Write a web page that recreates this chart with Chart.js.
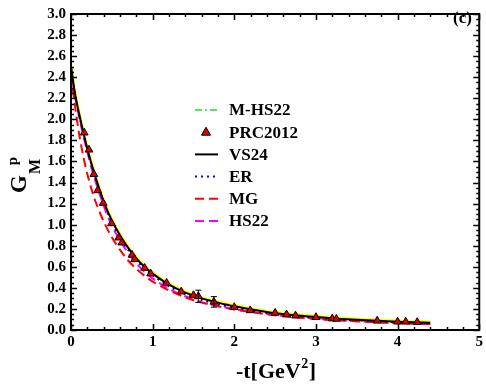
<!DOCTYPE html>
<html>
<head>
<meta charset="utf-8">
<script src="https://cdn.jsdelivr.net/npm/chart.js@4.4.1/dist/chart.umd.min.js"></script>
<style>
html,body{margin:0;padding:0;background:#fff;}
canvas{display:block;}
</style>
</head>
<body>
<canvas id="c" width="486" height="384"></canvas>
<script>
// ---- data ----
const tGrid = [0,0.05,0.1,0.15,0.2,0.25,0.3,0.4,0.5,0.6,0.7,0.8,0.9,1.0,1.2,1.4,1.6,1.8,2.0,2.25,2.5,2.75,3.0,3.25,3.5,3.75,4.0,4.2,4.4];
const mhs22 = [2.51,2.25,2.06,1.89,1.73,1.59,1.46,1.232,1.052,0.91,0.79,0.69,0.61,0.545,0.44,0.365,0.308,0.268,0.233,0.198,0.168,0.148,0.131,0.116,0.105,0.095,0.087,0.081,0.076];
const vs24  = [2.50,2.24,2.05,1.88,1.72,1.58,1.45,1.22,1.04,0.90,0.78,0.68,0.60,0.535,0.43,0.355,0.30,0.26,0.225,0.19,0.16,0.14,0.123,0.108,0.097,0.087,0.079,0.073,0.068];
const er    = [2.49,2.23,2.04,1.87,1.71,1.57,1.44,1.21,1.02,0.88,0.76,0.66,0.585,0.52,0.415,0.34,0.285,0.245,0.213,0.18,0.152,0.132,0.116,0.102,0.091,0.082,0.074,0.068,0.063];
const mg    = [2.42,2.12,1.86,1.65,1.48,1.34,1.22,1.03,0.88,0.76,0.66,0.58,0.515,0.46,0.375,0.31,0.26,0.225,0.195,0.165,0.14,0.12,0.105,0.092,0.082,0.073,0.066,0.061,0.057];
const hs22  = [2.48,2.22,2.02,1.85,1.69,1.54,1.41,1.18,0.99,0.85,0.73,0.63,0.555,0.49,0.39,0.32,0.265,0.228,0.198,0.168,0.143,0.123,0.107,0.094,0.083,0.074,0.066,0.061,0.056];
const prcT = [0.162,0.22,0.28,0.326,0.394,0.496,0.585,0.622,0.748,0.78,0.902,0.976,1.171,1.35,1.5,1.56,1.75,2.0,2.195,2.5,2.64,2.75,3.0,3.2,3.25,3.75,4.0,4.1,4.24];
const prcG = [1.873,1.711,1.479,1.325,1.205,1.012,0.876,0.829,0.712,0.671,0.588,0.535,0.446,0.364,0.33,0.32,0.267,0.216,0.186,0.162,0.147,0.136,0.121,0.108,0.105,0.087,0.078,0.078,0.074];
const prcE = [0.01,0.01,0.01,0.01,0.01,0.01,0.01,0.01,0.01,0.01,0.01,0.012,0.015,0.01,0.01,0.058,0.05,0.01,0.01,0.01,0.01,0.01,0.01,0.01,0.01,0.01,0.01,0.01,0.01];
const xTicks = [0,1,2,3,4,5];
const yTicks = [0,0.2,0.4,0.6,0.8,1.0,1.2,1.4,1.6,1.8,2.0,2.2,2.4,2.6,2.8,3.0];

const pts = (xs, ys) => xs.map((x, i) => ({x: x, y: ys[i]}));
const SERIF = '"Liberation Serif", "Times New Roman", serif';

const lineDS = (label, ys, color, dash, width, order, legend) => ({
  type: 'scatter', label: label, data: pts(tGrid, ys), showLine: true,
  borderColor: color, backgroundColor: color, borderDash: dash, borderWidth: width,
  pointRadius: 0, tension: 0.3, order: order, inLegend: legend
});

const datasets = [
  lineDS('M-HS22', mhs22, '#22dd22', [7,3,2,3], 1.5, 9, true),
  {type: 'scatter', label: 'PRC2012', data: pts(prcT, prcG), errors: prcE,
   pointStyle: 'triangle', pointRadius: 4.5, backgroundColor: '#dd0000',
   borderColor: '#000', borderWidth: 1, order: 0, inLegend: true},
  lineDS('VS24', vs24, '#000000', [], 2, 1, true),
  lineDS('ER', er, '#0000ff', [2,4], 2, 2, true),
  lineDS('MG', mg, '#ff0000', [9,5], 2, 4, true),
  lineDS('HS22', hs22, '#ff00ff', [9,5], 2, 5, true),
  lineDS('band', mhs22, '#ffff00', [], 3, 8, false)
];

const decorPlugin = {
  id: 'decor',
  afterDatasetsDraw(chart) {
    const ctx = chart.ctx;
    const xs = chart.scales.x, ys = chart.scales.y;
    const prc = chart.data.datasets[1];
    ctx.save();
    ctx.strokeStyle = '#000'; ctx.lineWidth = 1;
    prc.data.forEach((p, i) => {
      const e = prc.errors[i];
      if (e < 0.03) return;
      const px = xs.getPixelForValue(p.x);
      const y1 = ys.getPixelForValue(p.y + e), y2 = ys.getPixelForValue(p.y - e);
      ctx.beginPath();
      ctx.moveTo(px, y1); ctx.lineTo(px, y2);
      ctx.moveTo(px - 3, y1); ctx.lineTo(px + 3, y1);
      ctx.moveTo(px - 3, y2); ctx.lineTo(px + 3, y2);
      ctx.stroke();
    });
    ctx.restore();
  },
  afterDraw(chart) {
    const ctx = chart.ctx;
    const a = chart.chartArea;
    const xs = chart.scales.x, ys = chart.scales.y;
    ctx.save();
    ctx.strokeStyle = '#000';
    ctx.lineWidth = 1.5;
    ctx.beginPath();
    for (let v = 0; v <= 5.0001; v += 0.2) {
      const px = Math.round(xs.getPixelForValue(v)) + 0.5;
      const major = Math.abs(v - Math.round(v)) < 1e-6;
      const L = major ? 6 : 3;
      ctx.moveTo(px, a.bottom); ctx.lineTo(px, a.bottom - L);
      ctx.moveTo(px, a.top); ctx.lineTo(px, a.top + L);
    }
    for (let v = 0; v <= 3.0001; v += 0.05) {
      const py = Math.round(ys.getPixelForValue(v)) + 0.5;
      const major = Math.abs(v * 5 - Math.round(v * 5)) < 1e-6;
      const L = major ? 6 : 3;
      ctx.moveTo(a.left, py); ctx.lineTo(a.left + L, py);
      ctx.moveTo(a.right, py); ctx.lineTo(a.right - L, py);
    }
    ctx.stroke();
    ctx.lineWidth = 2;
    ctx.strokeRect(a.left, a.top, a.right - a.left, a.bottom - a.top);

    // legend
    const items = chart.data.datasets.filter(d => d.inLegend);
    const rowY0 = 110, rowH = 22.2, lx0 = 195, lx1 = 218, tx = 229;
    ctx.font = 'bold 17px ' + SERIF;
    ctx.textBaseline = 'middle';
    ctx.fillStyle = '#000';
    items.forEach((d, i) => {
      const y = rowY0 + i * rowH;
      if (d.pointStyle === 'triangle') {
        const cx = (lx0 + lx1) / 2 - 0.5;
        ctx.beginPath();
        ctx.moveTo(cx, y - 5); ctx.lineTo(cx + 4.5, y + 3); ctx.lineTo(cx - 4.5, y + 3);
        ctx.closePath();
        ctx.fillStyle = d.backgroundColor; ctx.fill();
        ctx.strokeStyle = '#000'; ctx.lineWidth = 1; ctx.stroke();
      } else {
        ctx.beginPath();
        ctx.setLineDash(d.borderDash);
        ctx.strokeStyle = d.borderColor; ctx.lineWidth = d.borderWidth;
        ctx.moveTo(lx0, y); ctx.lineTo(lx1, y);
        ctx.stroke();
        ctx.setLineDash([]);
      }
      ctx.fillStyle = '#000';
      ctx.fillText(d.label, tx, y + 1);
    });

    ctx.font = 'bold 17px ' + SERIF;
    ctx.textBaseline = 'alphabetic';
    ctx.textAlign = 'left';
    ctx.fillText('(c)', 453, 23);

    // x title
    const f1 = 'bold 22px ' + SERIF, f2 = 'bold 14px ' + SERIF;
    ctx.font = f1; const w1 = ctx.measureText('-t[GeV').width;
    const w3 = ctx.measureText(']').width;
    ctx.font = f2; const w2 = ctx.measureText('2').width;
    let x0 = 276 - (w1 + w2 + w3 + 1) / 2;
    const by = 378;
    ctx.font = f1; ctx.fillText('-t[GeV', x0, by);
    ctx.font = f2; ctx.fillText('2', x0 + w1 + 0.5, by - 10);
    ctx.font = f1; ctx.fillText(']', x0 + w1 + w2 + 1, by);

    // y title (rotated)
    ctx.save();
    ctx.translate(26, 193);
    ctx.rotate(-Math.PI / 2);
    ctx.font = 'bold 23px ' + SERIF;
    ctx.fillText('G', 0, 0);
    const gw = ctx.measureText('G').width;
    ctx.font = 'bold 16px ' + SERIF;
    ctx.fillText('M', gw + 1, 14);
    const mw = ctx.measureText('M').width;
    ctx.font = 'bold 15px ' + SERIF;
    ctx.fillText('p', gw + mw * 0.25 + 6, -9);
    ctx.restore();

    ctx.restore();
  }
};

const tickFont = {family: SERIF, size: 15, weight: 'bold'};

new Chart(document.getElementById('c'), {
  type: 'scatter',
  data: {datasets: datasets},
  options: {
    responsive: false,
    animation: false,
    layout: {padding: {left: 0, right: 5, top: 7, bottom: 0}},
    plugins: {legend: {display: false}, tooltip: {enabled: false}},
    scales: {
      x: {
        type: 'linear', min: 0, max: 5,
        afterBuildTicks: s => { s.ticks = xTicks.map(v => ({value: v})); },
        ticks: {font: tickFont, color: '#000', padding: 3, maxRotation: 0,
                callback: v => String(v)},
        grid: {display: false, drawTicks: false},
        border: {display: false},
        afterFit: s => { s.height = 54; }
      },
      y: {
        type: 'linear', min: 0, max: 3,
        afterBuildTicks: s => { s.ticks = yTicks.map(v => ({value: v})); },
        ticks: {font: tickFont, color: '#000', padding: 5,
                callback: v => Number(v).toFixed(1)},
        grid: {display: false, drawTicks: false},
        border: {display: false},
        afterFit: s => { s.width = 71; }
      }
    }
  },
  plugins: [decorPlugin]
});
</script>
</body>
</html>
